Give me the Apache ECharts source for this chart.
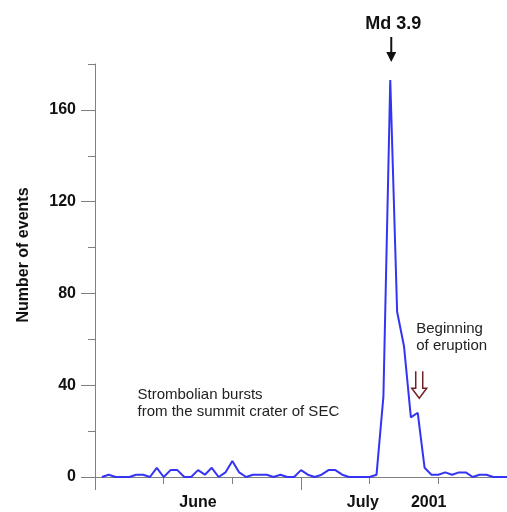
<!DOCTYPE html>
<html>
<head>
<meta charset="utf-8">
<script src="https://cdn.jsdelivr.net/npm/echarts@6/dist/echarts.min.js"></script>
<style>
  html, body { margin: 0; padding: 0; background: #fff; }
  #chart { width: 507px; height: 512px; }
</style>
</head>
<body>
<div id="chart"></div>
<script>
// Daily count of seismic events, June–July 2001 (day index along the x axis)
const days = [1,2,3,4,5,6,7,8,9,10,11,12,13,14,15,16,17,18,19,20,
              21,22,23,24,25,26,27,28,29,30,31,32,33,34,35,36,37,38,39,40,
              41,42,43,44,45,46,47,48,49,50,51,52,53,54,55,56,57,58,59,60];
const events = [0,1,0,0,0,1,1,0,4,0,3,3,0,0,3,1,4,0,2,7,
                2,0,1,1,1,0,1,0,0,3,1,0,1,3,3,1,0,0,0,0,
                1,35,173,72,57,26,28,4,1,1,2,1,2,2,0,1,1,0,0,0];

// Axis labels
const monthLabelDays = [15, 39, 48.6];
const monthLabelTexts = ['June', 'July', '2001'];
const yLabelValues = [0, 40, 80, 120, 160];
const yMinorValues = [20, 60, 100, 140, 180];

// Annotated points
const peakDay = 43;          // Md 3.9 event
const eruptionDay = 47;      // beginning of eruption

const seriesData = days.map((d, i) => [d, events[i]]);

const axisGray = '#808080';
const chart = echarts.init(document.getElementById('chart'), null, { renderer: 'canvas' });

chart.setOption({
  animation: false,
  backgroundColor: '#ffffff',
  grid: { left: 95, right: 0, top: 64, bottom: 35, containLabel: false },
  xAxis: {
    type: 'value',
    min: 0, max: 60, interval: 30,
    axisLine: { show: true, lineStyle: { color: axisGray, width: 1 } },
    axisTick: { show: true, length: 13, lineStyle: { color: axisGray, width: 1 } },
    minorTick: { show: true, splitNumber: 3, length: 7, lineStyle: { color: axisGray, width: 1 } },
    splitLine: { show: false },
    minorSplitLine: { show: false },
    axisLabel: {
      customValues: monthLabelDays,
      formatter: v => monthLabelTexts[monthLabelDays.indexOf(v)] || '',
      margin: 18,
      color: '#111',
      fontFamily: 'Liberation Sans, Arial, sans-serif',
      fontWeight: 'bold',
      fontSize: 16
    }
  },
  yAxis: [{
    type: 'value',
    position: 'left',
    min: 0, max: 180,
    axisLine: { show: true, lineStyle: { color: axisGray, width: 1 } },
    axisTick: { show: true, customValues: yLabelValues, length: 14, lineStyle: { color: axisGray, width: 1 } },
    splitLine: { show: false },
    axisLabel: {
      customValues: yLabelValues,
      margin: 19,
      color: '#111',
      fontFamily: 'Liberation Sans, Arial, sans-serif',
      fontWeight: 'bold',
      fontSize: 16
    }
  }, {
    type: 'value',
    position: 'left',
    min: 0, max: 180,
    axisLine: { show: false },
    axisTick: { show: true, customValues: yMinorValues, length: 7, lineStyle: { color: axisGray, width: 1 } },
    splitLine: { show: false },
    axisLabel: { show: false }
  }],
  series: [{
    type: 'line',
    data: seriesData,
    symbol: 'none',
    lineStyle: { color: '#3434f4', width: 2 },
    z: 3
  }]
});

// Annotations anchored to the data points they describe
const peakPx = chart.convertToPixel({ gridIndex: 0 }, [peakDay, events[days.indexOf(peakDay)]]);
const erupPx = chart.convertToPixel({ gridIndex: 0 }, [eruptionDay, events[days.indexOf(eruptionDay)]]);

const ax = peakPx[0] + 1;         // Md arrow x
const ex = erupPx[0] + 1.5;       // eruption arrow x
const etip = erupPx[1] - 14.5;    // eruption arrow tip y
const textFont = '15px "Liberation Sans", Arial, sans-serif';

chart.setOption({
  graphic: [
    {
      type: 'text',
      style: {
        text: 'Md 3.9', x: ax + 2, y: 24,
        align: 'center', verticalAlign: 'middle',
        font: 'bold 18px "Liberation Sans", Arial, sans-serif', fill: '#111'
      }
    },
    // solid black arrow down to the peak
    {
      type: 'line',
      shape: { x1: ax, y1: 37, x2: ax, y2: 55 },
      style: { stroke: '#111', lineWidth: 2 }
    },
    {
      type: 'polygon',
      shape: { points: [[ax - 5, 52], [ax + 5, 52], [ax, peakPx[1] - 18]] },
      style: { fill: '#111' }
    },
    // hollow double-line arrow marking the beginning of the eruption
    {
      type: 'polyline',
      shape: {
        points: [
          [ex - 3.5, etip - 27], [ex - 3.5, etip - 10], [ex - 7.5, etip - 10],
          [ex, etip], [ex + 7.5, etip - 10], [ex + 3.5, etip - 10], [ex + 3.5, etip - 27]
        ]
      },
      style: { stroke: '#6e2424', lineWidth: 1.5, fill: null }
    },
    {
      type: 'text',
      style: {
        text: 'Beginning\nof eruption', x: ex - 3, y: 321,
        align: 'left', verticalAlign: 'top', lineHeight: 16.5,
        font: textFont, fill: '#222'
      }
    },
    {
      type: 'text',
      style: {
        text: 'Strombolian bursts\nfrom the summit crater of SEC', x: 137.5, y: 386,
        align: 'left', verticalAlign: 'top', lineHeight: 17,
        font: textFont, fill: '#222'
      }
    },
    // y axis title
    {
      type: 'text',
      x: 24, y: 255, rotation: Math.PI / 2,
      style: {
        text: 'Number of events', x: 0, y: 0,
        align: 'center', verticalAlign: 'middle',
        font: 'bold 16px "Liberation Sans", Arial, sans-serif', fill: '#111'
      }
    }
  ]
});
</script>
</body>
</html>
